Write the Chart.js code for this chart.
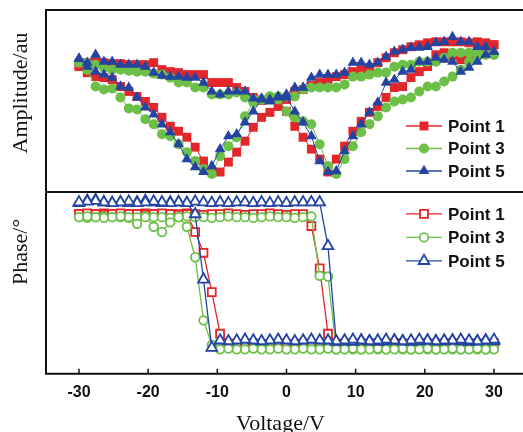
<!DOCTYPE html>
<html>
<head>
<meta charset="utf-8">
<script src="https://cdn.jsdelivr.net/npm/chart.js@4.4.1/dist/chart.umd.min.js"></script>
<style>
  html, body { margin: 0; padding: 0; background: #fff; }
</style>
</head>
<body>
<canvas id="chart" width="523" height="432"></canvas>
<script>
// sweep voltages (V), used for both sweep directions
const voltage = [-30, -28.8, -27.6, -26.4, -25.2, -24, -22.8, -21.6, -20.4, -19.2, -18, -16.8, -15.6, -14.4, -13.2, -12, -10.8, -9.6, -8.4, -7.2, -6, -4.8, -3.6, -2.4, -1.2, 0, 1.2, 2.4, 3.6, 4.8, 6, 7.2, 8.4, 9.6, 10.8, 12, 13.2, 14.4, 15.6, 16.8, 18, 19.2, 20.4, 21.6, 22.8, 24, 25.2, 26.4, 27.6, 28.8, 30];
const xTicks = [-30, -20, -10, 0, 10, 20, 30];

// amplitude (au); "Up" = sweep -30 -> 30, "Down" = sweep 30 -> -30 (both listed by ascending voltage)
const amp1Up = [1.28, 1.30, 1.31, 1.30, 1.29, 1.29, 1.28, 1.28, 1.28, 1.30, 1.23, 1.21, 1.20, 1.18, 1.18, 1.18, 1.10, 1.10, 1.10, 1.05, 1.01, 0.95, 0.92, 0.93, 0.94, 0.81, 0.66, 0.55, 0.43, 0.33, 0.20, 0.33, 0.46, 0.61, 0.71, 0.80, 0.86, 0.95, 1.05, 1.06, 1.15, 1.21, 1.26, 1.38, 1.40, 1.37, 1.33, 1.36, 1.45, 1.46, 1.48];
const amp1Down = [1.26, 1.20, 1.16, 1.15, 1.13, 1.06, 1.01, 0.96, 0.91, 0.85, 0.75, 0.66, 0.61, 0.55, 0.45, 0.31, 0.21, 0.20, 0.30, 0.40, 0.51, 0.65, 0.75, 0.80, 0.86, 0.93, 1.01, 1.03, 1.07, 1.10, 1.13, 1.16, 1.18, 1.21, 1.23, 1.25, 1.30, 1.35, 1.40, 1.43, 1.46, 1.48, 1.50, 1.51, 1.51, 1.51, 1.51, 1.50, 1.51, 1.50, 1.48];
const amp3Up = [1.31, 1.30, 1.28, 1.25, 1.23, 1.23, 1.22, 1.21, 1.21, 1.19, 1.18, 1.15, 1.10, 1.10, 1.05, 1.05, 0.98, 0.98, 0.98, 1.00, 0.95, 0.93, 0.93, 0.96, 0.93, 0.81, 0.75, 0.71, 0.68, 0.48, 0.26, 0.18, 0.33, 0.46, 0.60, 0.68, 0.76, 0.85, 0.91, 0.93, 0.95, 1.01, 1.06, 1.06, 1.11, 1.16, 1.23, 1.31, 1.36, 1.38, 1.38];
const amp3Down = [1.30, 1.23, 1.06, 1.03, 1.04, 0.95, 0.84, 0.83, 0.73, 0.68, 0.58, 0.56, 0.48, 0.40, 0.31, 0.23, 0.18, 0.36, 0.46, 0.55, 0.76, 0.90, 0.93, 0.96, 0.96, 0.96, 0.96, 1.03, 1.05, 1.05, 1.05, 1.05, 1.08, 1.16, 1.16, 1.18, 1.20, 1.20, 1.26, 1.28, 1.28, 1.31, 1.31, 1.31, 1.35, 1.40, 1.40, 1.40, 1.40, 1.38, 1.38];
const amp5Up = [1.34, 1.30, 1.38, 1.31, 1.31, 1.28, 1.28, 1.28, 1.26, 1.20, 1.17, 1.16, 1.16, 1.15, 1.15, 1.10, 1.01, 0.98, 1.01, 1.01, 1.01, 0.94, 0.94, 0.91, 0.95, 0.95, 0.81, 0.70, 0.56, 0.31, 0.20, 0.21, 0.41, 0.56, 0.68, 0.80, 0.90, 1.10, 1.13, 1.21, 1.23, 1.31, 1.31, 1.35, 1.33, 1.31, 1.21, 1.25, 1.31, 1.38, 1.41];
const amp5Down = [1.34, 1.26, 1.21, 1.18, 1.15, 1.06, 1.05, 0.95, 0.85, 0.78, 0.68, 0.60, 0.48, 0.33, 0.25, 0.20, 0.26, 0.43, 0.56, 0.58, 0.70, 0.81, 0.93, 0.93, 0.96, 0.98, 1.05, 1.05, 1.15, 1.18, 1.18, 1.18, 1.20, 1.30, 1.30, 1.28, 1.30, 1.36, 1.41, 1.43, 1.45, 1.45, 1.46, 1.50, 1.51, 1.56, 1.51, 1.51, 1.46, 1.46, 1.41];

// phase (degrees)
const phase1Up = [177, 176, 177, 178, 177, 176, 177, 177, 178, 177, 176, 177, 177, 178, 177, 176, 177, 177, 178, 177, 176, 177, 177, 178, 177, 176, 177, 177, 161, 104, 16, 2, 3, 2, 2, 3, 2, 2, 3, 2, 2, 3, 2, 2, 3, 2, 2, 3, 2, 2, 3];
const phase1Down = [177, 178, 177, 176, 177, 178, 177, 177, 176, 177, 178, 177, 176, 177, 153, 125, 72, 16, 3, 2, 2, 3, 2, 2, 3, 2, 2, 3, 2, 2, 3, 2, 2, 3, 2, 2, 3, 2, 2, 3, 2, 2, 3, 2, 2, 3, 2, 2, 3, 2, 2];
const phase3Up = [173, 172, 173, 174, 173, 173, 172, 173, 174, 173, 173, 172, 173, 174, 173, 173, 172, 173, 174, 173, 173, 172, 173, 174, 173, 173, 172, 173, 174, 94, 93, -5, -4, -5, -5, -4, -5, -5, -4, -5, -5, -4, -5, -5, -4, -5, -5, -4, -5, -5, -4];
const phase3Down = [173, 174, 173, 172, 173, 174, 173, 164, 173, 160, 153, 166, 173, 160, 119, 34, 1, -5, -4, -5, -5, -4, -5, -5, -4, -5, -5, -4, -5, -5, -4, -5, -5, -4, -5, -5, -4, -5, -5, -4, -5, -5, -4, -5, -5, -4, -5, -5, -4, -5, -5];
const phase5Up = [192, 195, 196, 193, 192, 193, 192, 193, 195, 193, 192, 193, 193, 192, 194, 193, 192, 193, 192, 193, 193, 192, 193, 192, 193, 192, 193, 193, 193, 193, 134, 5, 6, 5, 7, 6, 5, 6, 7, 6, 5, 6, 7, 6, 6, 7, 6, 5, 6, 7, 6];
const phase5Down = [193, 194, 195, 193, 192, 193, 194, 192, 193, 194, 193, 192, 193, 192, 177, 89, -3, 7, 6, 7, 8, 7, 6, 7, 8, 7, 6, 7, 8, 7, 7, 6, 7, 8, 7, 6, 7, 8, 7, 6, 7, 8, 7, 6, 7, 7, 8, 7, 6, 7, 8];

const RED = '#e3262a';
const GREEN = '#6cbf47';
const BLUE = '#2444a2';

// full loop: up sweep then back down
const loop = (up, down) => {
  let pts = voltage.map((v, i) => ({ x: v, y: up[i] }));
  for (let i = voltage.length - 1; i >= 0; i--) {
    pts.push({ x: voltage[i], y: down[i] });
  }
  return pts;
};

const series = [
  { label: 'Point 1', color: RED, style: 'rect', r: 6.3, rHollow: 5.6, amp: [amp1Up, amp1Down], phase: [phase1Up, phase1Down], order: 3 },
  { label: 'Point 3', color: GREEN, style: 'circle', r: 5, rHollow: 4.3, amp: [amp3Up, amp3Down], phase: [phase3Up, phase3Down], order: 2 },
  { label: 'Point 5', color: BLUE, style: 'triangle', r: 6.2, rHollow: 6.2, amp: [amp5Up, amp5Down], phase: [phase5Up, phase5Down], order: 1 },
];

const datasets = [];
series.forEach(s => {
  datasets.push({
    label: s.label,
    yAxisID: 'yAmp',
    data: loop(s.amp[0], s.amp[1]),
    borderColor: s.color,
    backgroundColor: s.color,
    borderWidth: 1,
    pointStyle: s.style,
    pointRadius: s.r,
    pointBorderWidth: 0,
    pointBackgroundColor: s.color,
    tension: 0,
    order: s.order,
  });
  datasets.push({
    label: s.label,
    yAxisID: 'yPhase',
    data: loop(s.phase[0], s.phase[1]),
    borderColor: s.color,
    backgroundColor: '#fff',
    borderWidth: 1.3,
    pointStyle: s.style,
    pointRadius: s.rHollow,
    pointBorderWidth: 1.8,
    pointBorderColor: s.color,
    pointBackgroundColor: '#fff',
    tension: 0,
    order: s.order,
  });
});

const drawMarker = (ctx, style, x, y, r, fill, stroke, lw) => {
  ctx.beginPath();
  if (style === 'rect') {
    const h = r * Math.SQRT1_2;
    ctx.rect(x - h, y - h, 2 * h, 2 * h);
  } else if (style === 'circle') {
    ctx.arc(x, y, r, 0, Math.PI * 2);
  } else {
    ctx.moveTo(x, y - r);
    ctx.lineTo(x + r * Math.sin(Math.PI / 3), y + r / 2);
    ctx.lineTo(x - r * Math.sin(Math.PI / 3), y + r / 2);
    ctx.closePath();
  }
  ctx.fillStyle = fill;
  ctx.fill();
  if (lw > 0) {
    ctx.lineWidth = lw;
    ctx.strokeStyle = stroke;
    ctx.stroke();
  }
};

const panelDecor = {
  id: 'panelDecor',
  afterDraw(chart) {
    const ctx = chart.ctx;
    const area = chart.chartArea;
    const xs = chart.scales.x;
    const ya = chart.scales.yAmp;
    const yp = chart.scales.yPhase;
    const far = chart.width + 5;
    ctx.save();
    // frame and divider
    ctx.strokeStyle = '#111';
    ctx.lineWidth = 2;
    ctx.beginPath();
    ctx.moveTo(far, area.top);
    ctx.lineTo(area.left, area.top);
    ctx.lineTo(area.left, area.bottom);
    ctx.lineTo(far, area.bottom);
    ctx.moveTo(area.left, ya.bottom);
    ctx.lineTo(far, ya.bottom);
    ctx.stroke();
    // inward tick marks
    ctx.lineWidth = 1.5;
    ctx.beginPath();
    xs.ticks.forEach(t => {
      const px = xs.getPixelForValue(t.value);
      ctx.moveTo(px, area.bottom);
      ctx.lineTo(px, area.bottom - 5);
    });
    ctx.stroke();
    // y titles
    ctx.fillStyle = '#111';
    ctx.font = '22px "Liberation Serif"';
    ctx.textAlign = 'center';
    ctx.textBaseline = 'middle';
    [['Amplitude/au', ya.top + 83], ['Phase/°', yp.top + 60]].forEach(([txt, cy]) => {
      ctx.save();
      ctx.translate(area.left - 25, cy);
      ctx.rotate(-Math.PI / 2);
      ctx.fillText(txt, 0, 0);
      ctx.restore();
    });
    // legends
    ctx.font = 'bold 17px "Liberation Sans"';
    ctx.textAlign = 'left';
    const lx = area.left + 360;
    series.forEach((s, k) => {
      [[ya.top + 116 + k * 22.5, true], [yp.top + 22 + k * 23.5, false]].forEach(([cy, filled]) => {
        ctx.strokeStyle = s.color;
        ctx.lineWidth = 1.3;
        ctx.beginPath();
        ctx.moveTo(lx, cy);
        ctx.lineTo(lx + 36, cy);
        ctx.stroke();
        if (filled) drawMarker(ctx, s.style, lx + 18, cy, s.r, s.color, s.color, 0);
        else drawMarker(ctx, s.style, lx + 18, cy, s.rHollow, '#fff', s.color, 1.8);
        ctx.fillStyle = '#111';
        ctx.fillText(s.label, lx + 42, cy + 1);
      });
    });
    ctx.restore();
  }
};

const config = {
  type: 'line',
  data: { datasets: datasets },
  options: {
    responsive: false,
    animation: false,
    devicePixelRatio: 1,
    layout: { padding: { left: 46, top: 10, right: 0, bottom: -3 } },
    plugins: { legend: { display: false }, tooltip: { enabled: false } },
    scales: {
      x: {
        type: 'linear',
        min: -34.77,
        max: 33.04,
        grid: { display: false, drawTicks: false },
        border: { display: false },
        afterBuildTicks: scale => { scale.ticks = xTicks.map(v => ({ value: v })); },
        ticks: { padding: 9, color: '#111', font: { family: 'Liberation Sans', size: 16, weight: 'bold' } },
        title: { display: true, text: 'Voltage/V', color: '#111', font: { family: 'Liberation Serif', size: 22, lineHeight: 1 }, padding: { top: 2, bottom: 0 } }
      },
      yPhase: {
        type: 'linear',
        position: 'left',
        stack: 'panels',
        stackWeight: 1,
        min: -38,
        max: 207,
        grid: { display: false, drawTicks: false },
        border: { display: false },
        ticks: { display: false }
      },
      yAmp: {
        type: 'linear',
        position: 'left',
        stack: 'panels',
        stackWeight: 1,
        min: 0,
        max: 1.83,
        grid: { display: false, drawTicks: false },
        border: { display: false },
        ticks: { display: false }
      }
    }
  },
  plugins: [panelDecor]
};

const chart = new Chart(document.getElementById('chart'), config);
</script>
</body>
</html>
